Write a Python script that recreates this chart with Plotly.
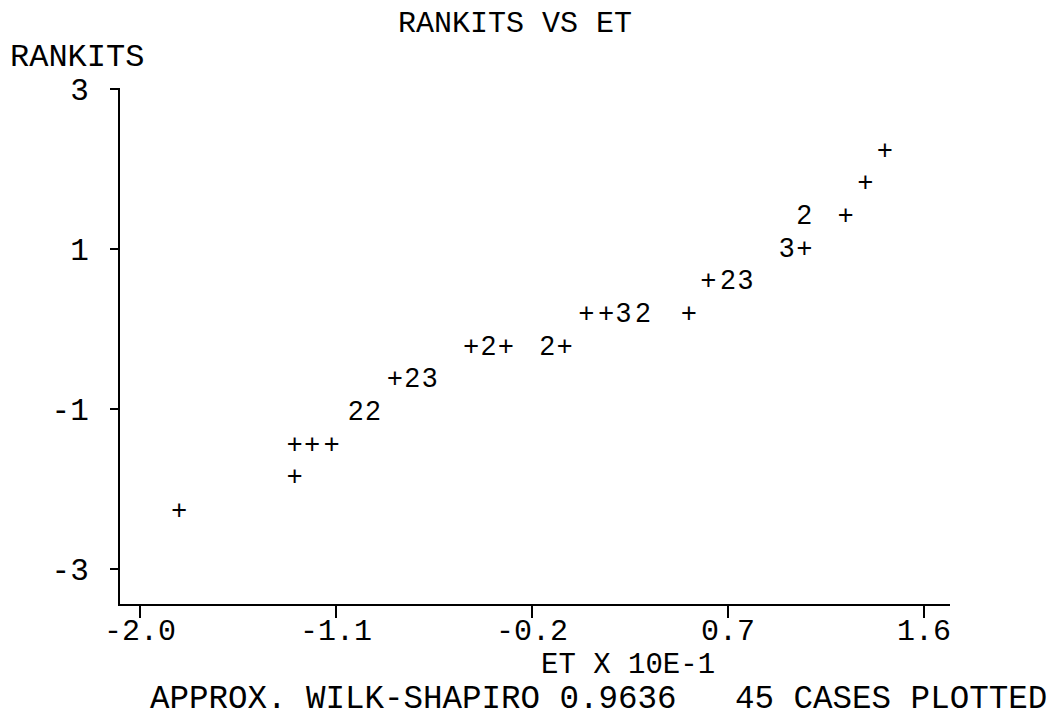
import plotly.graph_objects as go

# Character-plot contents (BMDP style): each plotted symbol with its ET (x 10E-1) and RANKIT position
et_values = [-1.82,
             -1.29,
             -1.29, -1.21, -1.12,
             -1.01, -0.93,
             -0.83, -0.75, -0.67,
             -0.48, -0.40, -0.32, -0.13, -0.05,
             0.05, 0.14, 0.22, 0.31, 0.52,
             0.61, 0.70, 0.78,
             0.97, 1.05,
             1.05, 1.24,
             1.33,
             1.42]
rankit_values = [-2.29,
                 -1.87,
                 -1.46, -1.46, -1.46,
                 -1.05, -1.05,
                 -0.64, -0.64, -0.64,
                 -0.24, -0.24, -0.24, -0.24, -0.24,
                 0.17, 0.17, 0.17, 0.17, 0.17,
                 0.59, 0.59, 0.59,
                 0.99, 0.99,
                 1.40, 1.40,
                 1.81,
                 2.21]
symbols = ["+",
           "+",
           "+", "+", "+",
           "2", "2",
           "+", "2", "3",
           "+", "2", "+", "2", "+",
           "+", "+", "3", "2", "+",
           "+", "2", "3",
           "3", "+",
           "2", "+",
           "+",
           "+"]

x_tickvals = [-2.0, -1.1, -0.2, 0.7, 1.6]
x_ticktext = ["-2.0", "-1.1", "-0.2", "0.7", "1.6"]
y_tickvals = [3, 1, -1, -3]
y_ticktext = ["3", "1", "-1", "-3"]

title_text = "RANKITS VS ET"
y_label = "RANKITS"
x_label = "ET X 10E-1"
footer = "APPROX. WILK-SHAPIRO 0.9636   45 CASES PLOTTED"

MONO = "Liberation Mono"

fig = go.Figure()
fig.add_trace(go.Scatter(
    x=et_values, y=rankit_values, mode="text", text=symbols,
    textposition="middle center",
    textfont=dict(family="Liberation Sans", size=27, color="black"),
    hoverinfo="skip", showlegend=False,
))

fig.update_layout(
    width=1050, height=712,
    margin=dict(l=112, r=108, t=80, b=116),
    paper_bgcolor="white", plot_bgcolor="white",
    font=dict(family=MONO, size=32, color="black"),
    xaxis=dict(
        range=[-2.092, 1.719], showgrid=False, zeroline=False, automargin=False,
        showline=True, linecolor="black", linewidth=2,
        tickmode="array", tickvals=x_tickvals, ticktext=x_ticktext,
        ticks="outside", ticklen=12, tickwidth=2, tickcolor="black",
        ticklabelstandoff=-14,
        tickfont=dict(family=MONO, size=30, color="black"),
    ),
    yaxis=dict(
        range=[-3.4375, 3.0125], showgrid=False, zeroline=False, automargin=False,
        showline=True, linecolor="black", linewidth=2,
        tickmode="array", tickvals=y_tickvals, ticktext=y_ticktext,
        ticks="outside", ticklen=8, tickwidth=2, tickcolor="black",
        ticklabelstandoff=15,
        tickfont=dict(family=MONO, size=31, color="black"),
    ),
    annotations=[
        dict(text=title_text, xref="paper", yref="paper", x=0.476, y=1.124,
             xanchor="center", yanchor="middle", showarrow=False,
             font=dict(family=MONO, size=30, color="black")),
        dict(text=y_label, xref="paper", yref="paper", x=-0.135, y=1.060,
             xanchor="left", yanchor="middle", showarrow=False,
             font=dict(family=MONO, size=32, color="black")),
        dict(text=x_label, xref="paper", yref="paper", x=0.612, y=-0.119,
             xanchor="center", yanchor="middle", showarrow=False,
             font=dict(family=MONO, size=29, color="black")),
        dict(text=footer.replace(" ", "&nbsp;"), xref="paper", yref="paper", x=0.0337, y=-0.186,
             xanchor="left", yanchor="middle", showarrow=False,
             font=dict(family=MONO, size=32.5, color="black")),
    ],
)

fig.write_html("out.html")
